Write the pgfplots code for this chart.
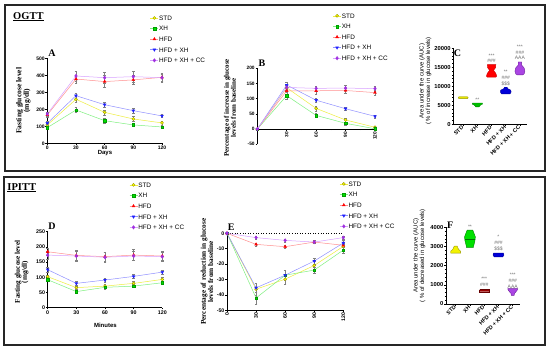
\documentclass[border=0pt]{standalone}
\usepackage{fontspec}
\setmainfont{Liberation Serif}
\setsansfont{Liberation Sans}
\usepackage{pgfplots}
\pgfplotsset{compat=1.18}

\definecolor{stdline}{HTML}{EEEE40}
\definecolor{stdfill}{HTML}{FFFF00}
\definecolor{stdedge}{HTML}{9A9A00}
\definecolor{xhline}{HTML}{80F080}
\definecolor{xhfill}{HTML}{00E000}
\definecolor{hfdline}{HTML}{FF9090}
\definecolor{hfdfill}{HTML}{FF0000}
\definecolor{hxline}{HTML}{9090FF}
\definecolor{hxfill}{HTML}{2020FF}
\definecolor{ccline}{HTML}{D8A0FF}
\definecolor{ccfill}{HTML}{A030E0}
\definecolor{anno}{HTML}{707070}

\tikzset{
 letter/.style={font=\bfseries\fontsize{10}{10}\selectfont},
 an/.style={font=\sffamily\fontsize{5}{5}\selectfont, text=anno, inner sep=0pt},
}

\pgfplotsset{
 gp/.style={scale only axis, clip=false,
   axis x line*=bottom, axis y line*=left,
   axis line style={-, line width=0.7pt},
   tick align=outside, tick style={black, line width=0.5pt},
   major tick length=1.8pt, minor tick length=1.1pt,
   tick label style={font=\sffamily\bfseries\fontsize{5}{6}\selectfont, inner sep=0.7pt},
   /pgf/number format/assume math mode=true,
   /pgf/number format/set thousands separator={},
   scaled ticks=false,
   label style={font=\bfseries\fontsize{7}{7.5}\selectfont, align=center},
   legend style={draw=none, fill=none, font=\sffamily\fontsize{6.4}{7}\selectfont,
     inner sep=0pt, row sep=5pt,
     nodes={inner sep=0.5pt, text height=4.6pt, text depth=0pt},
     /tikz/every even column/.append style={column sep=2.8pt}},
   legend cell align=left,
   legend image code/.code={\draw[##1, mark repeat=2, mark phase=2] plot coordinates {(0pt,0pt)(4pt,0pt)(8pt,0pt)};},
 },
 eb/.style={/pgfplots/error bars/y dir=both, /pgfplots/error bars/y explicit,
   /pgfplots/error bars/error bar style={gray, line width=0.35pt},
   /pgfplots/error bars/error mark options={rotate=90, mark size=1.3pt, gray, line width=0.35pt}},
 sstd/.style={stdline, line width=0.5pt, mark=*, mark size=1.5pt, mark options={fill=stdfill, draw=stdedge, line width=0.4pt}, eb},
 sxh/.style={xhline, line width=0.5pt, mark=square*, mark size=1.3pt, mark options={fill=xhfill, draw=xhfill!70!black, line width=0.3pt}, eb},
 shfd/.style={hfdline, line width=0.5pt, mark=triangle*, mark size=1.7pt, mark options={fill=hfdfill, draw=hfdfill, line width=0.3pt}, eb},
 shx/.style={hxline, line width=0.5pt, mark=triangle*, mark size=1.7pt, mark options={rotate=180, fill=hxfill, draw=hxfill, line width=0.3pt}, eb},
 scc/.style={ccline, line width=0.5pt, mark=diamond*, mark size=1.8pt, mark options={fill=ccfill, draw=ccfill, line width=0.3pt}, eb},
 catax/.style={xticklabel style={rotate=45, anchor=east, font=\sffamily\bfseries\fontsize{5.5}{6}\selectfont},
   yticklabel style={font=\sffamily\bfseries\fontsize{5.8}{6}\selectfont},
   ylabel style={font=\sffamily\fontsize{6}{6.6}\selectfont}},
}

\begin{document}
\begin{tikzpicture}
\useasboundingbox (0pt,0pt) rectangle (550pt,350pt);
\fill[white] (0pt,0pt) rectangle (550pt,350pt);
\draw[line width=1.2pt, black!85] (5pt,345pt) rectangle (545pt,179pt);
\draw[line width=1.2pt, black!85] (4pt,173pt) rectangle (545pt,5pt);
\node[anchor=west, font=\bfseries\fontsize{10.5}{12}\selectfont, inner sep=0pt] at (13pt,333.3pt) {\underline{OGTT}};
\node[anchor=west, font=\bfseries\fontsize{10.5}{12}\selectfont, inner sep=0pt] at (7.3pt,162.3pt) {\underline{IPITT}};

% ---------------- A ----------------
\begin{axis}[gp, at={(47.3pt,206.7pt)}, anchor=south west, width=114.7pt, height=85pt,
  xmin=0, xmax=120, ymin=0, ymax=500, xtick={0,30,60,90,120}, ytick={0,100,...,500},
  xlabel={Days}, ylabel={Fasting glucose level\\(mg/dl)},
  xlabel style={font=\sffamily\bfseries\fontsize{6}{7}\selectfont, at={(axis description cs:0.503,-0.12)}, anchor=center},
  ylabel style={font=\bfseries\fontsize{7.6}{7.6}\selectfont, at={(axis description cs:-0.209,0.5)}, anchor=center},
  legend style={at={(0.895,1.51)}, anchor=north west}]
\addplot[sstd] coordinates {(0,108) +- (0,8) (30,259) +- (0,20) (60,182) +- (0,15) (90,143) +- (0,15) (120,120) +- (0,12)};
\addplot[sxh] coordinates {(0,92) +- (0,8) (30,196) +- (0,15) (60,133) +- (0,12) (90,108) +- (0,10) (120,96) +- (0,10)};
\addplot[shfd] coordinates {(0,167) +- (0,12) (30,378) +- (0,25) (60,363) +- (0,35) (90,373) +- (0,25) (120,388) +- (0,20)};
\addplot[shx] coordinates {(0,118) +- (0,10) (30,280) +- (0,15) (60,227) +- (0,12) (90,192) +- (0,12) (120,161) +- (0,10)};
\addplot[scc] coordinates {(0,173) +- (0,12) (30,396) +- (0,30) (60,386) +- (0,35) (90,392) +- (0,30) (120,386) +- (0,25)};
\legend{STD,XH,HFD,HFD + XH,HFD + XH + CC}
\node[letter] at (axis description cs:0.04,1.062) {A};
\end{axis}

% ---------------- B ----------------
\begin{axis}[gp, at={(257.3pt,205.7pt)}, anchor=south west, width=117.7pt, height=76pt,
  axis x line*=middle,
  xmin=0, xmax=120, ymin=-50, ymax=200, xtick={30,60,90,120}, minor x tick num=1,
  ytick={-50,0,...,200},
  tick label style={font=\sffamily\bfseries\fontsize{4.8}{5}\selectfont},
  xticklabel style={rotate=90, anchor=east},
  ylabel={Percentage of increase in glucose\\levels from baseline},
  ylabel style={font=\bfseries\fontsize{7}{7}\selectfont, at={(axis description cs:-0.232,0.48)}, anchor=center},
  legend style={at={(0.64,1.73)}, anchor=north west}]
\addplot[sstd] coordinates {(0,0) (30,136) +- (0,10) (60,68) +- (0,8) (90,30) +- (0,6) (120,6) +- (0,4)};
\addplot[sxh] coordinates {(0,0) (30,110) +- (0,10) (60,45) +- (0,6) (90,19) +- (0,5) (120,1) +- (0,3)};
\addplot[shfd] coordinates {(0,0) (30,126) +- (0,10) (60,126) +- (0,10) (90,127) +- (0,8) (120,120) +- (0,8)};
\addplot[shx] coordinates {(0,0) (30,145) +- (0,10) (60,95) +- (0,6) (90,67) +- (0,5) (120,42) +- (0,5)};
\addplot[scc] coordinates {(0,0) (30,137) +- (0,10) (60,134) +- (0,8) (90,135) +- (0,8) (120,133) +- (0,8)};
\legend{STD,XH,HFD,HFD + XH,HFD + XH + CC}
\node[letter] at (axis description cs:0.04,1.066) {B};
\end{axis}

% ---------------- C ----------------
\begin{axis}[gp, catax, at={(453.3pt,225.7pt)}, anchor=south west, width=73.7pt, height=76pt,
  xmin=0.3, xmax=5.5, ymin=0, ymax=20000, xtick={1,2,3,4,5},
  xticklabels={STD,XH,HFD,HFD + XH,HFD + XH + CC},
  ytick={0,5000,...,20000}, minor y tick num=4,
  ylabel={Area under the curve (AUC)\\( \% of increase in glucose levels)},
  ylabel style={at={(axis description cs:-0.38,0.57)}, anchor=center}]
\addplot[fill=stdfill!80!olive, draw=stdedge, line width=0.4pt] coordinates {(0.7,6750)(1.3,6750)(1.35,7000)(1.3,7250)(0.7,7250)(0.65,7000)(0.7,6750)};
\addplot[fill=xhfill!85!black, draw=xhfill!60!black, line width=0.4pt] coordinates {(1.65,5600)(2.35,5600)(2.35,5300)(2.2,5000)(2.12,4600)(1.88,4600)(1.8,5000)(1.65,5300)(1.65,5600)};
\addplot[fill=hfdfill, draw=hfdfill!80!black, line width=0.4pt] coordinates {(2.7,15700)(3.3,15700)(3.28,14900)(3.14,14200)(3.3,13400)(3.36,12700)(3.3,12400)(2.7,12400)(2.64,12700)(2.7,13400)(2.86,14200)(2.72,14900)(2.7,15700)};
\addplot[fill=blue!85!black, draw=blue!60!black, line width=0.4pt] coordinates {(3.9,9750)(4.1,9750)(4.12,9400)(4.35,9000)(4.38,8500)(4.3,8000)(3.7,8000)(3.62,8500)(3.65,9000)(3.88,9400)(3.9,9750)};
\addplot[fill=ccfill!90!white, draw=ccfill!70!black, line width=0.4pt] coordinates {(4.88,16400)(5.12,16400)(5.12,15600)(5.3,14800)(5.35,14000)(5.3,13300)(5.2,13000)(4.8,13000)(4.7,13300)(4.65,14000)(4.7,14800)(4.88,15600)(4.88,16400)};
\node[an] at (axis cs:2,6500) {**};
\node[an] at (axis cs:3,18100) {***};
\node[an] at (axis cs:3,16600) {\#\#\#};
\node[an] at (axis cs:4,13700) {**};
\node[an] at (axis cs:4,12200) {\#\#\#};
\node[an] at (axis cs:4,10700) {\$\$\$};
\node[an] at (axis cs:5,20400) {***};
\node[an] at (axis cs:5,18900) {\#\#\#};
\node[an] at (axis cs:5,17400) {AAA};
\node[letter] at (axis description cs:0.057,0.934) {C};
\end{axis}

% ---------------- D ----------------
\begin{axis}[gp, at={(47.7pt,42.3pt)}, anchor=south west, width=114.6pt, height=76pt,
  xmin=0, xmax=120, ymin=0, ymax=250, xtick={0,30,60,90,120}, ytick={0,50,...,250},
  tick label style={font=\sffamily\bfseries\fontsize{5.3}{6}\selectfont},
  xlabel={Minutes}, ylabel={Fasting glucose level\\(mg/dl)},
  xlabel style={font=\sffamily\bfseries\fontsize{6}{7}\selectfont, at={(axis description cs:0.503,-0.228)}, anchor=center},
  ylabel style={font=\bfseries\fontsize{7.2}{7.2}\selectfont, at={(axis description cs:-0.227,0.47)}, anchor=center},
  legend style={at={(0.71,1.655)}, anchor=north west}]
\addplot[sstd] coordinates {(0,102) +- (0,6) (30,66) +- (0,6) (60,71) +- (0,6) (90,80) +- (0,6) (120,93) +- (0,6)};
\addplot[sxh] coordinates {(0,92) +- (0,5) (30,53) +- (0,5) (60,67) +- (0,5) (90,71) +- (0,5) (120,82) +- (0,5)};
\addplot[shfd] coordinates {(0,184) +- (0,12) (30,172) +- (0,18) (60,168) +- (0,15) (90,173) +- (0,18) (120,170) +- (0,15)};
\addplot[shx] coordinates {(0,125) +- (0,7) (30,80) +- (0,6) (60,91) +- (0,6) (90,103) +- (0,7) (120,117) +- (0,7)};
\addplot[scc] coordinates {(0,173) +- (0,12) (30,170) +- (0,15) (60,166) +- (0,15) (90,170) +- (0,15) (120,168) +- (0,14)};
\legend{STD,XH,HFD,HFD + XH,HFD + XH + CC}
\node[letter] at (axis description cs:0.037,1.066) {D};
\end{axis}

% ---------------- E ----------------
\begin{axis}[gp, at={(227pt,39.7pt)}, anchor=south west, width=116.3pt, height=77pt,
  xmin=0, xmax=120, ymin=-50, ymax=0, xtick={0,30,60,90,120}, ytick={-50,-40,...,0},
  tick label style={font=\sffamily\bfseries\fontsize{5.2}{6}\selectfont},
  xticklabel style={rotate=90, anchor=east},
  ylabel={Percentage of reduction in glucose\\levels from baseline},
  ylabel style={font=\bfseries\fontsize{7.3}{7.3}\selectfont, at={(axis description cs:-0.172,0.5)}, anchor=center},
  legend style={at={(0.966,1.68)}, anchor=north west}]
\addplot[black, dotted, line width=0.6pt, forget plot] coordinates {(0,0) (120,0)};
\addplot[sstd] coordinates {(0,0) (30,-36.3) +- (0,4) (60,-29.8) +- (0,3) (90,-20.9) +- (0,3) (120,-8.5) +- (0,2)};
\addplot[sxh] coordinates {(0,0) (30,-42) +- (0,4) (60,-27.2) +- (0,3) (90,-23.9) +- (0,2) (120,-10.9) +- (0,2)};
\addplot[shfd] coordinates {(0,0) (30,-7.2) +- (0,1) (60,-8.7) +- (0,1) (90,-5.7) +- (0,1) (120,-7.8) +- (0,1)};
\addplot[shx] coordinates {(0,0) (30,-35.4) +- (0,3) (60,-27.2) +- (0,3) (90,-18) +- (0,2) (120,-6.3) +- (0,2)};
\addplot[scc] coordinates {(0,0) (30,-2.8) +- (0,1) (60,-4.6) +- (0,1) (90,-5.7) +- (0,1) (120,-2.8) +- (0,1)};
\legend{STD,XH,HFD,HFD + XH,HFD + XH + CC}
\node[letter] at (axis description cs:0.037,1.078) {E};
\end{axis}

% ---------------- F ----------------
\begin{axis}[gp, catax, at={(446pt,46pt)}, anchor=south west, width=74pt, height=76.7pt,
  xmin=0.32, xmax=5.51, ymin=0, ymax=4000, xtick={1,2,3,4,5},
  xticklabels={STD,XH,HFD,HFD + XH,HFD + XH + CC},
  ytick={0,1000,...,4000}, minor y tick num=4,
  ylabel={Area under the curve (AUC)\\( \% of decreased in glucose levels)},
  ylabel style={at={(axis description cs:-0.36,0.63)}, anchor=center}]
\addplot[fill=stdfill!90!olive, draw=stdedge, line width=0.4pt] coordinates {(0.9,3020)(1.1,3020)(1.2,2850)(1.35,2750)(1.35,2650)(0.65,2650)(0.65,2750)(0.8,2850)(0.9,3020)};
\addplot[fill=xhfill, draw=xhfill!60!black, line width=0.4pt] coordinates {(1.8,3850)(2.2,3850)(2.38,3500)(2.35,3300)(2.25,3000)(2.25,2950)(1.75,2950)(1.75,3000)(1.65,3300)(1.62,3500)(1.8,3850)};
\addplot[draw=xhfill!50!black, line width=0.3pt] coordinates {(1.63,3400)(2.37,3400)};
\addplot[fill=red!60!black, draw=red!40!black, line width=0.4pt] coordinates {(2.68,750)(3.32,750)(3.32,640)(2.68,640)(2.68,750)};
\addplot[fill=blue!85!black, draw=blue!60!black, line width=0.4pt] coordinates {(3.65,2650)(4.35,2650)(4.38,2550)(4.3,2460)(3.7,2460)(3.62,2550)(3.65,2650)};
\addplot[fill=ccfill!90!white, draw=ccfill!70!black, line width=0.4pt] coordinates {(4.65,800)(5.35,800)(5.3,700)(5.12,550)(5.1,450)(4.9,450)(4.88,550)(4.7,700)(4.65,800)};
\node[an] at (axis cs:2,4050) {**};
\node[an] at (axis cs:3,1300) {***};
\node[an] at (axis cs:3,980) {\#\#\#};
\node[an] at (axis cs:4,3480) {*};
\node[an] at (axis cs:4,3180) {\#\#\#};
\node[an] at (axis cs:4,2870) {\$\$\$};
\node[an] at (axis cs:5,1540) {***};
\node[an] at (axis cs:5,1220) {\#\#\#};
\node[an] at (axis cs:5,920) {AAA};
\node[letter] at (axis description cs:0.058,1.03) {F};
\end{axis}
\end{tikzpicture}
\end{document}
